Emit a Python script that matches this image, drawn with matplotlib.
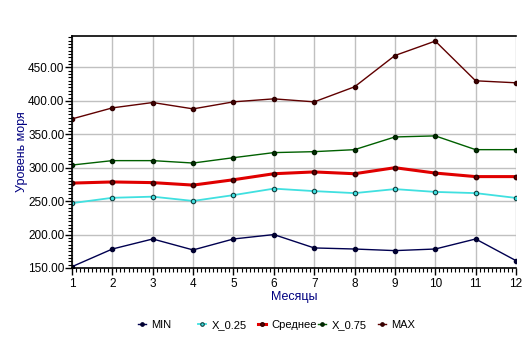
import matplotlib.pyplot as plt
from matplotlib.ticker import MultipleLocator, FormatStrFormatter

plt.rcParams['font.family'] = ['Liberation Sans', 'DejaVu Sans']

months = list(range(1, 13))
v_min = [152, 178.4, 193.4, 177, 193.4, 200, 180, 178.4, 176, 178.4, 193.4, 161]
v_q25 = [247, 255, 256.7, 250.3, 259, 268.7, 265, 262, 268, 263.8, 262, 254.8]
v_mean = [277, 278.7, 277.7, 274, 282, 291, 293.7, 291, 300, 292, 286.7, 286.7]
v_q75 = [304, 310.6, 310.6, 307, 315, 322.6, 324, 327, 346, 347.6, 327, 327]
v_max = [373, 389.5, 397.5, 388, 398.5, 403, 398.5, 421, 467.8, 489.4, 430, 427]

W, H = 532, 347
fig = plt.figure(figsize=(W / 100, H / 100), dpi=100)
ax = fig.add_axes([72 / W, 1 - 268 / H, 444 / W, 232 / H])

lines = []
lines += ax.plot(months, v_min, color='#000050', lw=1, marker='o', ms=3,
                 mfc='#000030', mec='#000030', label='MIN')
lines += ax.plot(months, v_q25, color='#40e0e0', lw=1.3, marker='o', ms=3.2,
                 mfc='#40e0e0', mec='#104040', mew=0.8, label='X_0.25')
lines += ax.plot(months, v_mean, color='#e00000', lw=2.2, marker='o', ms=3.2,
                 mfc='#600000', mec='#300000', label='Среднее')
lines += ax.plot(months, v_q75, color='#006000', lw=1, marker='o', ms=3,
                 mfc='#003000', mec='#002000', label='X_0.75')
lines += ax.plot(months, v_max, color='#600000', lw=1, marker='o', ms=3,
                 mfc='#400000', mec='#300000', label='MAX')

ax.set_xlim(1, 12)
ax.set_ylim(150, 497)
ax.xaxis.set_major_locator(MultipleLocator(1))
ax.xaxis.set_minor_locator(MultipleLocator(0.1))
ax.yaxis.set_major_locator(MultipleLocator(50))
ax.yaxis.set_minor_locator(MultipleLocator(5))
ax.yaxis.set_major_formatter(FormatStrFormatter('%.2f'))
ax.grid(True, which='major', color='#c0c0c0', lw=1)
ax.set_axisbelow(True)

ax.tick_params(which='major', direction='out', length=5, width=1, labelsize=8.5)
ax.tick_params(axis='y', which='major', pad=0.5)
ax.tick_params(axis='x', which='major', pad=2)
ax.tick_params(which='minor', direction='out', length=3, width=0.8)
ax.spines['right'].set_visible(False)
for s in ('left', 'bottom', 'top'):
    ax.spines[s].set_color('black')
    ax.spines[s].set_linewidth(1.2)

ax.set_xlabel('Месяцы', color='#000080', fontsize=9, labelpad=1)
ax.set_ylabel('Уровень моря', color='#000080', fontsize=9)
ax.yaxis.set_label_coords((28 - 72) / 444, 0.5)

# legend entries on a fixed pitch, like the original chart control
fs = 8
hl = 0.7
for i, ln in enumerate(lines):
    mx = 142 + i * 60 - hl * fs * 100 / 72 / 2
    fig.legend([ln], [ln.get_label()], loc='center left',
               bbox_to_anchor=(mx / W, 1 - 325 / H), frameon=False,
               fontsize=fs, handlelength=hl, handletextpad=0.5,
               markerscale=0.8, borderpad=0, borderaxespad=0)

fig.savefig('out.png', dpi=100)
